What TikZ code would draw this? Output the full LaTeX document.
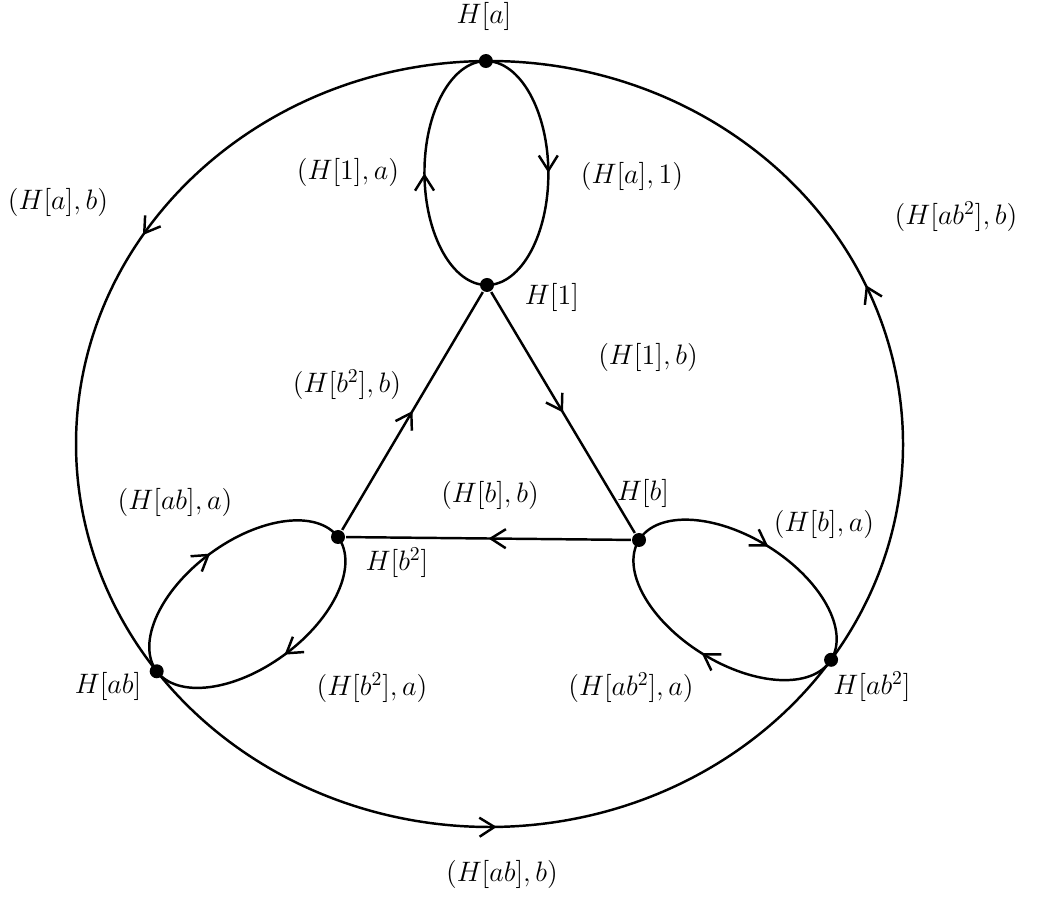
\documentclass[tikz,border=0pt]{standalone}
\usepackage{fix-cm}
\usetikzlibrary{arrows.meta,positioning,calc,decorations.markings}

\tikzset{
  vtx/.style={circle,fill,inner sep=0pt,minimum size=2.8mm},
  midarrow/.style={postaction={decorate},decoration={markings,
    mark=at position #1 with {\arrow{Straight Barb[length=3mm,width=3.8mm]}}}},
  midarrow/.default=0.5
}

\begin{document}
\begin{tikzpicture}[
  line width=1.4pt,
  font=\fontsize{16}{19}\selectfont
]
\useasboundingbox (0,0) rectangle (20.78,17.92);
\coordinate (O) at (9.79,9.04);

% vertices
\node[vtx] (Ha) at ($(O)+(90.5:8.27 and 7.66)$) {};
\node[vtx] (Hab) at ($(O)+(216.4:8.27 and 7.66)$) {};
\node[vtx] (Hab2) at ($(O)+(325.7:8.27 and 7.66)$) {};
\node[vtx] (H1) at (9.74,12.22) {};
\node[vtx] (Hb) at (12.78,7.12) {};
\node[vtx] (Hb2) at (6.76,7.18) {};

\node (lHa) at (9.68,17.60) {$H[a]$};
\node (lH1) at (11.04,11.98) {$H[1]$};
\node (lHb) at (12.86,8.06) {$H[b]$};
\node (lHb2) at (7.94,6.66) {$H[b^2]$};
\node (lHab) at (2.16,4.20) {$H[ab]$};
\node (lHab2) at (17.44,4.18) {$H[ab^2]$};

% outer circle
\draw[midarrow=0.46] (Ha.center) arc[start angle=90.5, end angle=216.4, x radius=8.27, y radius=7.66];
\draw[midarrow=0.5] (Hab.center) arc[start angle=216.4, end angle=325.7, x radius=8.27, y radius=7.66];
\draw[midarrow=0.46] (Hab2.center) arc[start angle=325.7, end angle=450.5, x radius=8.27, y radius=7.66];

% loops (half ellipses between the two vertices)
\draw[midarrow, rotate=90.26] (H1.center) arc[start angle=180, end angle=0, x radius=2.24, y radius=1.24];
\draw[midarrow, rotate=90.26] (Ha.center) arc[start angle=0, end angle=-180, x radius=2.24, y radius=1.24];
\draw[midarrow, rotate=36.4] (Hab.center) arc[start angle=180, end angle=0, x radius=2.256, y radius=1.26];
\draw[midarrow, rotate=36.4] (Hb2.center) arc[start angle=0, end angle=-180, x radius=2.256, y radius=1.26];
\draw[midarrow, rotate=-32] (Hb.center) arc[start angle=180, end angle=0, x radius=2.264, y radius=1.26];
\draw[midarrow, rotate=-32] (Hab2.center) arc[start angle=0, end angle=-180, x radius=2.264, y radius=1.26];

% triangle
\draw[midarrow] (H1) -- (Hb);
\draw[midarrow] (Hb) -- (Hb2);
\draw[midarrow] (Hb2) -- (H1);

% edge labels
\node (e1) at (6.96,14.48) {$(H[1],a)$};
\node (e2) at (12.64,14.40) {$(H[a],1)$};
\node (e3) at (1.16,13.88) {$(H[a],b)$};
\node (e4) at (19.12,13.58) {$(H[ab^2],b)$};
\node (e5) at (6.94,10.22) {$(H[b^2],b)$};
\node (e6) at (12.96,10.78) {$(H[1],b)$};
\node (e7) at (9.80,8.02) {$(H[b],b)$};
\node (e8) at (3.50,7.88) {$(H[ab],a)$};
\node (e9) at (16.48,7.44) {$(H[b],a)$};
\node (e10) at (7.44,4.16) {$(H[b^2],a)$};
\node (e11) at (12.62,4.16) {$(H[ab^2],a)$};
\node (e12) at (10.04,0.44) {$(H[ab],b)$};
\end{tikzpicture}
\end{document}
